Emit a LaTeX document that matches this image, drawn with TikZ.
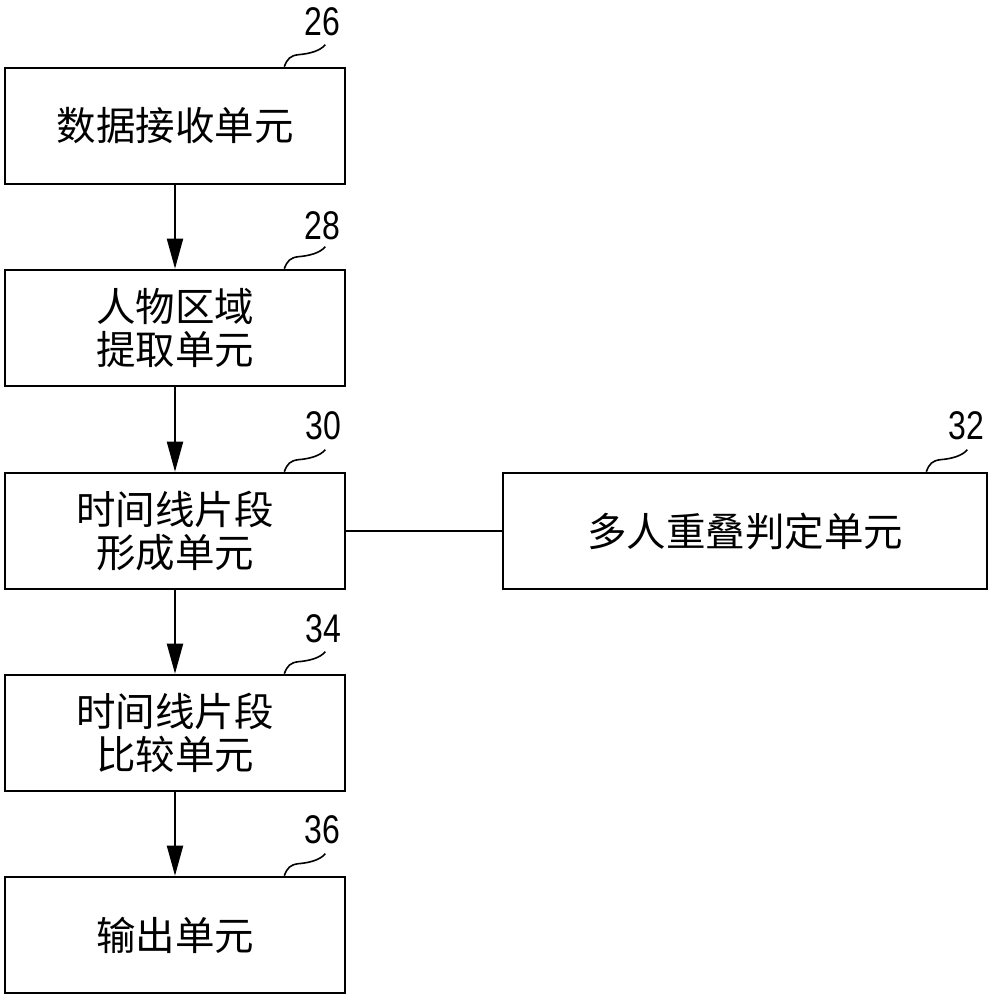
\documentclass[tikz,border=0pt]{standalone}
\usepackage{fontspec}
\newfontfamily\cjk{Noto Sans CJK SC}
\newfontfamily\numfont[FakeStretch=0.8]{Liberation Sans}
\usetikzlibrary{arrows.meta}
\begin{document}
\begin{tikzpicture}[x=1pt,y=-1pt,
  unit/.style={draw,line width=2.6pt,minimum width=340pt,minimum height=116pt,inner sep=0pt,
    align=center,font=\cjk\fontsize{39.5}{43}\selectfont},
  num/.style={inner sep=0pt,font=\numfont\fontsize{40}{40}\selectfont},
  flow/.style={line width=2pt,-{Triangle[length=30pt,width=16pt]}},
  lead/.style={line width=1.6pt},
  link/.style={line width=2pt}]
\useasboundingbox (0,0) rectangle (991,1000);
\node[unit] (b26) at (175,126) {数据接收单元};
\node[unit] (b28) at (175,328) {人物区域\\提取单元};
\node[unit] (b30) at (175,531) {时间线片段\\形成单元};
\node[unit,minimum width=484pt] (b32) at (745,531) {多人重叠判定单元};
\node[unit] (b34) at (175,733) {时间线片段\\比较单元};
\node[unit] (b36) at (175,935) {输出单元};
\draw[flow] (b26) -- (b28);
\draw[flow] (b28) -- (b30);
\draw[flow] (b30) -- (b34);
\draw[flow] (b34) -- (b36);
\draw[link] (b30) -- (b32);
\node[num] (n26) at (322,22) {26};
\node[num] (n28) at (322,226) {28};
\node[num] (n30) at (323,426) {30};
\node[num] (n32) at (966,426) {32};
\node[num] (n34) at (323,629) {34};
\node[num] (n36) at (322,830) {36};
\foreach \b in {26,28,30,32,34,36}{
  \coordinate (s\b) at ([xshift=-62pt]b\b.north east);
  \draw[lead] (s\b) .. controls +(3,-8) and +(-8,1) .. ++(14,-12)
     .. controls +(12,-1) and +(-5,6) .. ++(27,-10);
}
\end{tikzpicture}
\end{document}
